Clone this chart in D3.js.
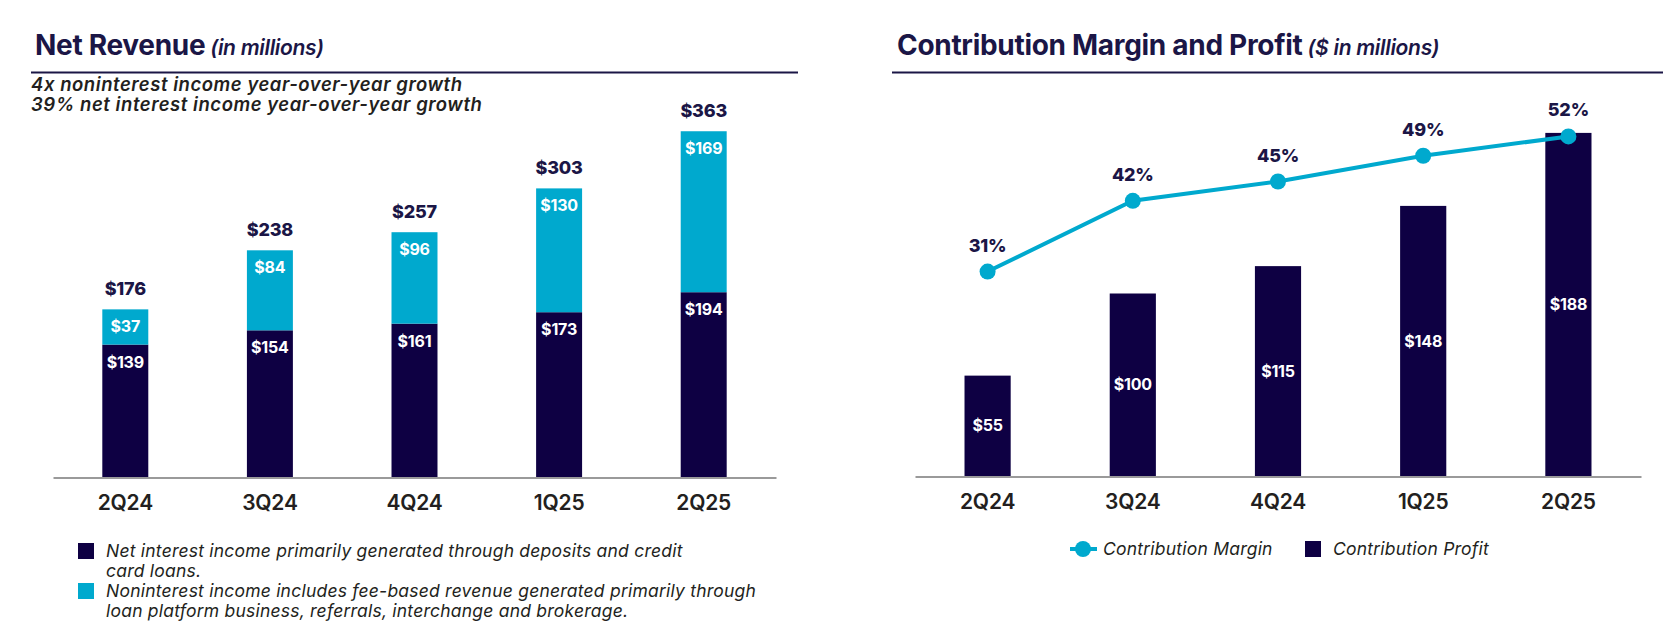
<!DOCTYPE html>
<html>
<head>
<meta charset="utf-8">
<script src="https://cdn.jsdelivr.net/npm/d3@7/dist/d3.min.js"></script>
<style>
  html, body { margin: 0; padding: 0; background: #fff; }
  svg { display: block; font-family: Inter, "Noto Sans", sans-serif; }
</style>
</head>
<body>
<svg id="chart" width="1678" height="633"></svg>
<script>
// quarters shown on both panels
var categories = ["2Q24", "3Q24", "4Q24", "1Q25", "2Q25"];

// net revenue panel ($ in millions)
var netInterest = [139, 154, 161, 173, 194];
var nonInterest = [37, 84, 96, 130, 169];
var netRevenue = [176, 238, 257, 303, 363];

// contribution panel
var contribProfit = [55, 100, 115, 148, 188];
var contribMargin = [31, 42, 45, 49, 52];

var NAVY = "#0e0043";
var CYAN = "#00a9ce";
var INK = "#1b1646";
var GREY_TXT = "#231f20";

var svg = d3.select("#chart");

function header(x, y, ruleX0, ruleX1, main, sub) {
  var t = svg.append("text").attr("x", x).attr("y", y)
    .attr("fill", INK);
  t.append("tspan").attr("font-size", 28).attr("font-weight", 700)
    .attr("letter-spacing", -0.3).text(main);
  t.append("tspan").attr("dx", 5).attr("font-size", 21).attr("font-weight", 600)
    .attr("font-style", "italic").attr("letter-spacing", -0.3).text(sub);
  svg.append("line").attr("x1", ruleX0).attr("x2", ruleX1)
    .attr("y1", 72.5).attr("y2", 72.5)
    .attr("stroke", INK).attr("stroke-width", 2);
}

function baseAxis(x, y) {
  var g = svg.append("g").attr("transform", "translate(0," + y + ")")
    .call(d3.axisBottom(x).tickSize(0).tickPadding(18));
  g.select(".domain").attr("stroke", "#9a9a9a").attr("stroke-width", 2);
  g.selectAll("text").attr("font-size", 21).attr("font-weight", 600)
    .attr("fill", GREY_TXT).attr("font-family", "Inter, sans-serif")
    .attr("dy", "0.71em").attr("letter-spacing", -0.2);
  return g;
}

function legendText(x, y, txt) {
  return svg.append("text").attr("x", x).attr("y", y)
    .attr("font-size", 17.5).attr("font-style", "italic").attr("fill", GREY_TXT)
    .attr("letter-spacing", 0.22).text(txt);
}

// ---------- left: Net Revenue ----------
header(35, 55, 31, 798, "Net Revenue", "(in millions)");

var subtitles = ["4x noninterest income year-over-year growth",
                 "39% net interest income year-over-year growth"];
subtitles.forEach(function (s, i) {
  svg.append("text").attr("x", 31).attr("y", 91 + i * 20)
    .attr("font-size", 18.5).attr("font-weight", 600).attr("font-style", "italic")
    .attr("fill", GREY_TXT).attr("letter-spacing", 0.55)
    .text(s);
});

var xL = d3.scaleBand().domain(categories).range([53, 776])
  .paddingInner(0.682).paddingOuter(0.341);
var yL = d3.scaleLinear().domain([0, 400]).range([477, 96]);

var stackRows = categories.map(function (c, i) {
  return { cat: c, interest: netInterest[i], nonint: nonInterest[i] };
});
var series = d3.stack().keys(["interest", "nonint"])(stackRows);
var fills = { interest: NAVY, nonint: CYAN };

var layers = svg.append("g").selectAll("g").data(series).join("g")
  .attr("fill", function (d) { return fills[d.key]; });

layers.selectAll("rect").data(function (d) { return d; }).join("rect")
  .attr("x", function (d) { return xL(d.data.cat); })
  .attr("width", xL.bandwidth())
  .attr("y", function (d) { return yL(d[1]); })
  .attr("height", function (d) { return yL(d[0]) - yL(d[1]); });

layers.selectAll("text").data(function (d) { return d; }).join("text")
  .attr("x", function (d) { return xL(d.data.cat) + xL.bandwidth() / 2; })
  .attr("y", function (d) { return yL(d[1]) + 23; })
  .attr("text-anchor", "middle").attr("fill", "#fff")
  .attr("font-size", 16).attr("font-weight", 700).attr("letter-spacing", -0.2)
  .text(function (d) { return "$" + (d[1] - d[0]); });

svg.append("g").selectAll("text").data(netRevenue).join("text")
  .attr("x", function (d, i) { return xL(categories[i]) + xL.bandwidth() / 2; })
  .attr("y", function (d) { return yL(d) - 14; })
  .attr("text-anchor", "middle").attr("fill", INK)
  .attr("font-size", 18).attr("font-weight", 800).attr("letter-spacing", -0.2)
  .text(function (d) { return "$" + d; });

baseAxis(xL, 477.5);

// legend (left)
var legendL = [
  { color: NAVY, lines: ["Net interest income primarily generated through deposits and credit", "card loans."] },
  { color: CYAN, lines: ["Noninterest income includes fee-based revenue generated primarily through", "loan platform business, referrals, interchange and brokerage."] }
];
legendL.forEach(function (item, i) {
  var top = 543 + i * 40;
  svg.append("rect").attr("x", 78).attr("y", top).attr("width", 16).attr("height", 16)
    .attr("fill", item.color);
  item.lines.forEach(function (ln, j) {
    legendText(106, top + 14 + j * 20, ln);
  });
});

// ---------- right: Contribution Margin and Profit ----------
header(897, 55, 892, 1663, "Contribution Margin and Profit", "($ in millions)");

var xR = d3.scaleBand().domain(categories).range([915, 1641])
  .paddingInner(0.682).paddingOuter(0.341);
var yR = d3.scaleLinear().domain([0, 200]).range([476, 111]);
var yPct = d3.scaleLinear().domain([0, 60]).range([471, 85]);

svg.append("g").selectAll("rect").data(contribProfit).join("rect")
  .attr("x", function (d, i) { return xR(categories[i]); })
  .attr("width", xR.bandwidth())
  .attr("y", function (d) { return yR(d); })
  .attr("height", function (d) { return yR(0) - yR(d); })
  .attr("fill", NAVY);

svg.append("g").selectAll("text").data(contribProfit).join("text")
  .attr("x", function (d, i) { return xR(categories[i]) + xR.bandwidth() / 2; })
  .attr("y", function (d) { return (yR(d) + yR(0)) / 2; })
  .attr("dy", "0.35em")
  .attr("text-anchor", "middle").attr("fill", "#fff")
  .attr("font-size", 16).attr("font-weight", 700).attr("letter-spacing", -0.2)
  .text(function (d) { return "$" + d; });

baseAxis(xR, 476.5);

var cx = function (d, i) { return xR(categories[i]) + xR.bandwidth() / 2; };
var line = d3.line().x(cx).y(function (d) { return yPct(d); });

svg.append("path").datum(contribMargin)
  .attr("d", line).attr("fill", "none")
  .attr("stroke", CYAN).attr("stroke-width", 4);

svg.append("g").selectAll("circle").data(contribMargin).join("circle")
  .attr("cx", cx).attr("cy", function (d) { return yPct(d); })
  .attr("r", 8).attr("fill", CYAN);

svg.append("g").selectAll("text").data(contribMargin).join("text")
  .attr("x", cx).attr("y", function (d) { return yPct(d) - 20; })
  .attr("text-anchor", "middle").attr("fill", INK)
  .attr("font-size", 18).attr("font-weight", 800).attr("letter-spacing", -0.2)
  .text(function (d) { return d + "%"; });

// legend (right)
svg.append("line").attr("x1", 1070).attr("x2", 1097).attr("y1", 549).attr("y2", 549)
  .attr("stroke", CYAN).attr("stroke-width", 4);
svg.append("circle").attr("cx", 1083).attr("cy", 549).attr("r", 8).attr("fill", CYAN);
legendText(1103, 555, "Contribution Margin");
svg.append("rect").attr("x", 1305).attr("y", 541).attr("width", 16).attr("height", 16)
  .attr("fill", NAVY);
legendText(1333, 555, "Contribution Profit");
</script>
</body>
</html>
